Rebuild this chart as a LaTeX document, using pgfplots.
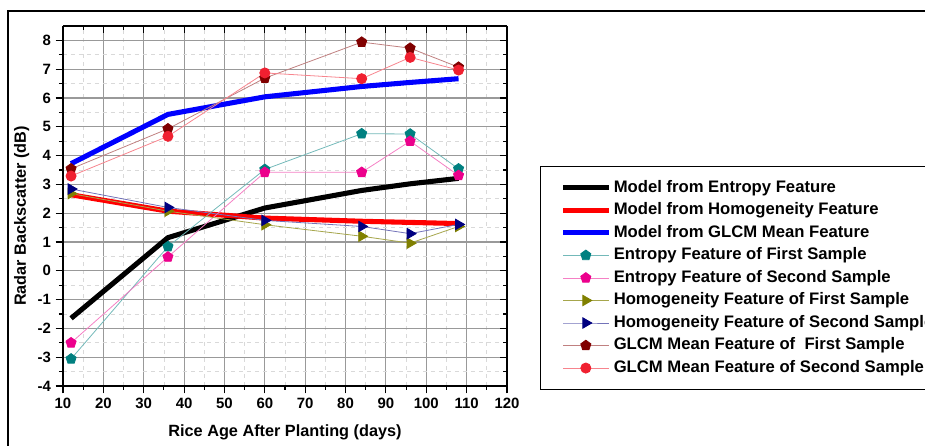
\documentclass[border=0pt]{standalone}
\usepackage{fontspec}
\setmainfont{Liberation Sans}
\usepackage{pgfplots}
\pgfplotsset{compat=1.18}
\usetikzlibrary{plotmarks}
\definecolor{teal1}{HTML}{008080}
\definecolor{olive1}{HTML}{808000}
\definecolor{navy1}{HTML}{000080}
\definecolor{maroon1}{HTML}{800000}
\definecolor{red2}{HTML}{F02030}
\begin{document}
\begin{tikzpicture}
\begin{axis}[
  scale only axis, width=333pt, height=270pt,
  xmin=10, xmax=120, ymin=-4, ymax=8.5,
  xtick={10,20,...,120}, ytick={-4,-3,...,8},
  minor x tick num=1, minor y tick num=1,
  axis x line*=bottom, axis y line*=left,
  tick align=outside,
  major tick length=5.5pt, minor tick length=3pt,
  every tick/.style={black, line width=0.8pt},
  axis line style={black, line width=1pt},
  grid=both,
  major grid style={gray!80, line width=0.8pt},
  minor grid style={gray!30, dashed, line width=0.5pt},
  /pgf/number format/assume math mode=true,
  ticklabel style={font=\bfseries\fontsize{11.2}{13}\selectfont},
  xlabel={Rice Age After Planting (days)},
  ylabel={Radar Backscatter (dB)},
  label style={font=\bfseries\fontsize{12.2}{14}\selectfont},
  xlabel style={at={(axis description cs:0.5,-0.1278)}, anchor=center},
  ylabel style={at={(axis description cs:-0.0931,0.4722)}, anchor=center},
  clip=false,
  legend cell align=left,
  legend image code/.code={\draw[mark repeat=2,mark phase=2,#1] plot coordinates {(0cm,0cm) (0.6cm,0cm) (1.2cm,0cm)};},
  legend style={at={(rel axis cs:1.0743,0.6111)}, anchor=north west, draw=black, line width=0.8pt,
    font=\bfseries\fontsize{12.5}{14}\selectfont, row sep=0pt,
    inner xsep=15pt, inner ysep=7.5pt,
    nodes={text height=9pt, text depth=2.5pt, inner ysep=2.7pt}},
]
\addplot[black, line width=3.8pt] coordinates {(12,-1.65) (36,1.15) (60,2.18) (84,2.79) (96,3.02) (108,3.21)};
\addlegendentry{Model from Entropy Feature}
\addplot[red, line width=3.8pt] coordinates {(12,2.64) (36,2.07) (60,1.83) (84,1.72) (96,1.68) (108,1.64)};
\addlegendentry{Model from Homogeneity Feature}
\addplot[blue, line width=3.8pt] coordinates {(12,3.72) (36,5.43) (60,6.04) (84,6.4) (96,6.54) (108,6.67)};
\addlegendentry{Model from GLCM Mean Feature}
\addplot[teal1!55, line width=0.6pt, mark=pentagon*, mark size=4pt, mark options={fill=teal1, draw=teal1}] coordinates {(12,-3.06) (36,0.84) (60,3.52) (84,4.76) (96,4.75) (108,3.54)};
\addlegendentry{Entropy Feature of First Sample}
\addplot[magenta!50, line width=0.6pt, mark=pentagon*, mark size=4pt, mark options={fill=magenta, draw=magenta}] coordinates {(12,-2.5) (36,0.48) (60,3.42) (84,3.42) (96,4.5) (108,3.31)};
\addlegendentry{Entropy Feature of Second Sample}
\addplot[olive1!70, line width=0.6pt, mark=triangle*, mark size=4.5pt, mark options={fill=olive1, draw=olive1, rotate=-90}] coordinates {(12,2.68) (36,2.07) (60,1.6) (84,1.2) (96,0.96) (108,1.54)};
\addlegendentry{Homogeneity Feature of First Sample}
\addplot[navy1!55, line width=0.6pt, mark=triangle*, mark size=4.5pt, mark options={fill=navy1, draw=navy1, rotate=-90}] coordinates {(12,2.84) (36,2.2) (60,1.75) (84,1.54) (96,1.29) (108,1.61)};
\addlegendentry{Homogeneity Feature of Second Sample}
\addplot[maroon1!50, line width=0.6pt, mark=pentagon*, mark size=4pt, mark options={fill=maroon1, draw=maroon1}] coordinates {(12,3.54) (36,4.93) (60,6.69) (84,7.94) (96,7.73) (108,7.07)};
\addlegendentry{GLCM Mean Feature of~ First Sample}
\addplot[red2!55, line width=0.6pt, mark=*, mark size=3.8pt, mark options={fill=red2, draw=red2}] coordinates {(12,3.29) (36,4.67) (60,6.87) (84,6.67) (96,7.41) (108,6.97)};
\addlegendentry{GLCM Mean Feature of Second Sample}
\end{axis}
\begin{axis}[
  scale only axis, width=333pt, height=270pt,
  xmin=10, xmax=120, ymin=-4, ymax=8.5,
  xtick={10,20,...,120}, ytick={-4,-3,...,8},
  minor x tick num=1, minor y tick num=1,
  axis x line*=top, axis y line*=right,
  tick align=inside, xticklabels={}, yticklabels={},
  major tick length=5.5pt, minor tick length=3pt,
  every tick/.style={black, line width=0.8pt},
  axis line style={black, line width=1pt},
]
\end{axis}
\draw[line width=2pt] (-41.25pt,-80pt) rectangle (720pt,281.25pt);
\pgfresetboundingbox
\path[use as bounding box] (-47.25pt,-45pt) rectangle (646.5pt,289.5pt);
\end{tikzpicture}
\end{document}
